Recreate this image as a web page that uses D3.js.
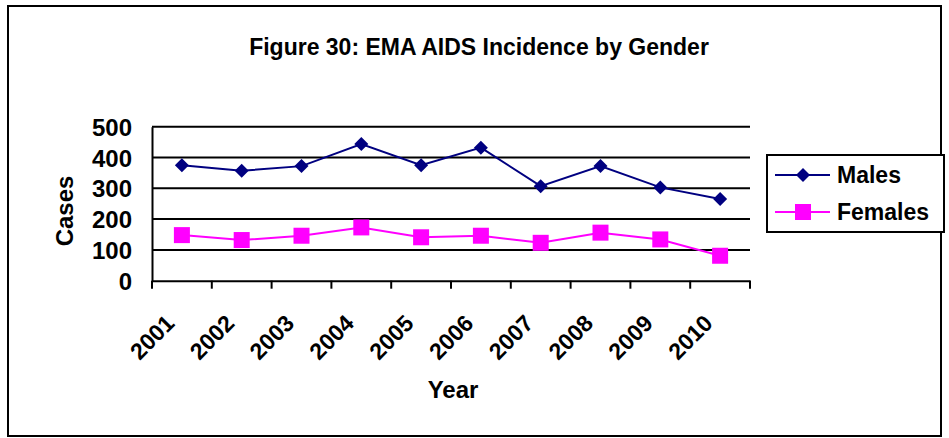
<!DOCTYPE html>
<html><head><meta charset="utf-8">
<script src="https://cdn.jsdelivr.net/npm/d3@7"></script>
<style>
html,body{margin:0;padding:0;background:#fff;}
svg text{font-family:"Liberation Sans",Arial,sans-serif;font-weight:bold;fill:#000;}
</style></head>
<body><svg id="chart" width="949" height="438"></svg>
<script>
const years = ["2001","2002","2003","2004","2005","2006","2007","2008","2009","2010"];
const males = [375, 357, 372, 444, 375, 432, 307, 372, 303, 265];
const females = [148, 132, 146, 173, 141, 146, 123, 156, 134, 81];
const yTicks = [0, 100, 200, 300, 400, 500];
const seriesNames = ["Males", "Females"];
const seriesColors = ["#000080", "#FF00FF"];
const titleText = "Figure 30: EMA AIDS Incidence by Gender";

const svg = d3.select("#chart");
// outer border
svg.append("rect").attr("x", 8).attr("y", 6).attr("width", 933).attr("height", 430)
  .attr("fill", "#fff").attr("stroke", "#000").attr("stroke-width", 2);

const x = d3.scaleBand().domain(years).range([152, 750]).padding(0);
const y = d3.scaleLinear().domain([0, 500]).range([280.7, 126.7]);

// title
svg.append("text").attr("x", 479).attr("y", 55).attr("text-anchor", "middle")
  .style("font-size", "23px").text(titleText);

// gridlines
svg.append("g").selectAll("line").data(yTicks.filter(d => d > 0)).join("line")
  .attr("x1", 152).attr("x2", 750).attr("y1", d => y(d)).attr("y2", d => y(d))
  .attr("stroke", "#000").attr("stroke-width", 2);

// y axis
const yAxis = svg.append("g").attr("transform", "translate(152,0)")
  .call(d3.axisLeft(y).tickValues(yTicks).tickSize(0).tickPadding(20));
yAxis.select(".domain").attr("stroke", "#000").attr("stroke-width", 2);
yAxis.selectAll("text").style("font-size", "24px").attr("dy", "0.36em");

// x axis
const xAxis = svg.append("g").attr("transform", "translate(0," + y(0) + ")")
  .call(d3.axisBottom(x).tickSize(0).tickFormat(""));
xAxis.select(".domain").attr("stroke", "#000").attr("stroke-width", 2);
// boundary ticks
const bounds = years.map(d => x(d)).concat([x.range()[1]]);
xAxis.selectAll(".btick").data(bounds).join("line").attr("class", "btick")
  .attr("x1", d => d).attr("x2", d => d).attr("y1", 0).attr("y2", 8)
  .attr("stroke", "#000").attr("stroke-width", 2);
// x labels rotated
xAxis.selectAll(".xl").data(years).join("text").attr("class", "xl")
  .attr("transform", d => "translate(" + (x(d) + x.bandwidth() / 2 - 6) + ",44) rotate(-45)")
  .attr("text-anchor", "end")
  .style("font-size", "23px").text(d => d);

// axis titles
svg.append("text").attr("transform", "translate(73,211) rotate(-90)")
  .attr("text-anchor", "middle").style("font-size", "24px").text("Cases");
svg.append("text").attr("x", 453).attr("y", 398).attr("text-anchor", "middle")
  .style("font-size", "24px").text("Year");

// series
const cx = d => x(d) + x.bandwidth() / 2;
const seriesData = [males, females];
const line = d3.line().x((d, i) => cx(years[i])).y(d => y(d));
seriesData.forEach((vals, si) => {
  svg.append("path").datum(vals).attr("d", line).attr("fill", "none")
    .attr("stroke", seriesColors[si]).attr("stroke-width", 2);
});
const diamond = (s) => "M0," + (-s) + "L" + s + ",0L0," + s + "L" + (-s) + ",0Z";
svg.append("g").selectAll("path").data(males).join("path")
  .attr("transform", (d, i) => "translate(" + cx(years[i]) + "," + y(d) + ")")
  .attr("d", diamond(7)).attr("fill", seriesColors[0]);
svg.append("g").selectAll("rect").data(females).join("rect")
  .attr("x", (d, i) => cx(years[i]) - 8).attr("y", d => y(d) - 8)
  .attr("width", 16).attr("height", 16).attr("fill", seriesColors[1]);

// legend
const lg = svg.append("g");
lg.append("rect").attr("x", 767).attr("y", 155).attr("width", 177).attr("height", 77)
  .attr("fill", "#fff").attr("stroke", "#000").attr("stroke-width", 2);
const ly = [175, 212];
seriesNames.forEach((nm, i) => {
  lg.append("line").attr("x1", 775).attr("x2", 830).attr("y1", ly[i]).attr("y2", ly[i])
    .attr("stroke", seriesColors[i]).attr("stroke-width", 2);
  if (i === 0) {
    lg.append("path").attr("transform", "translate(803," + ly[i] + ")").attr("d", diamond(7))
      .attr("fill", seriesColors[i]);
  } else {
    lg.append("rect").attr("x", 795).attr("y", ly[i] - 8).attr("width", 16).attr("height", 16)
      .attr("fill", seriesColors[i]);
  }
  lg.append("text").attr("x", 837).attr("y", ly[i]).attr("dy", "0.36em")
    .style("font-size", "23px").text(nm);
});
</script></body></html>
